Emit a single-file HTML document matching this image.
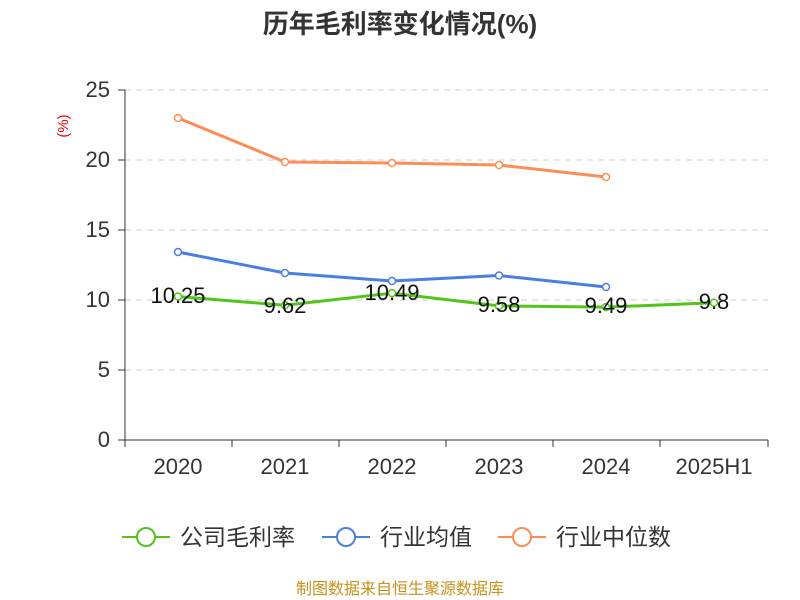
<!DOCTYPE html>
<html><head><meta charset="utf-8"><style>
body{margin:0;background:#fff;}
svg{display:block;font-family:"Liberation Sans","Noto Sans CJK SC",sans-serif;}
</style></head><body>
<svg width="800" height="600" viewBox="0 0 800 600">
<text x="400" y="33" text-anchor="middle" font-size="26" font-weight="bold" fill="#333">历年毛利率变化情况(%)</text>
<text transform="translate(68,126) rotate(-90)" text-anchor="middle" font-size="15" fill="#e00">(%)</text>
<g stroke="#ccc" stroke-dasharray="6,5" stroke-width="1">
<line x1="125" y1="90" x2="768" y2="90"/>
<line x1="125" y1="160" x2="768" y2="160"/>
<line x1="125" y1="230" x2="768" y2="230"/>
<line x1="125" y1="300" x2="768" y2="300"/>
<line x1="125" y1="370" x2="768" y2="370"/>
</g>
<g stroke="#333" stroke-width="1">
<line x1="125" y1="90" x2="125" y2="440"/>
<line x1="125" y1="440" x2="768" y2="440"/>
<line x1="118" y1="90" x2="125" y2="90"/><line x1="118" y1="160" x2="125" y2="160"/>
<line x1="118" y1="230" x2="125" y2="230"/><line x1="118" y1="300" x2="125" y2="300"/>
<line x1="118" y1="370" x2="125" y2="370"/><line x1="118" y1="440" x2="125" y2="440"/>
<line x1="125" y1="440" x2="125" y2="447"/><line x1="232" y1="440" x2="232" y2="447"/>
<line x1="339" y1="440" x2="339" y2="447"/><line x1="446" y1="440" x2="446" y2="447"/>
<line x1="553" y1="440" x2="553" y2="447"/><line x1="660" y1="440" x2="660" y2="447"/>
<line x1="768" y1="440" x2="768" y2="447"/>
</g>
<g font-size="22" fill="#333" text-anchor="end">
<text x="110" y="97">25</text><text x="110" y="167">20</text><text x="110" y="237">15</text>
<text x="110" y="307">10</text><text x="110" y="377">5</text><text x="110" y="447">0</text>
</g>
<g font-size="22" fill="#333" text-anchor="middle">
<text x="178" y="474">2020</text><text x="285" y="474">2021</text><text x="392" y="474">2022</text>
<text x="499" y="474">2023</text><text x="606" y="474">2024</text><text x="714" y="474">2025H1</text>
</g>
<g fill="none" stroke-width="3">
<polyline stroke="#fe8c56" points="178,118 285,162 392,163 499,165 606,177"/>
<polyline stroke="#4a7fe0" points="178,252 285,273 392,281 499,275.5 606,287"/>
<polyline stroke="#52c41a" points="178,296.5 285,305.3 392,293.1 499,305.9 606,307.1 714,302.8"/>
</g>
<g fill="#fff" stroke-width="1.5">
<g stroke="#fe8c56"><circle cx="178" cy="118" r="3.5"/><circle cx="285" cy="162" r="3.5"/><circle cx="392" cy="163" r="3.5"/><circle cx="499" cy="165" r="3.5"/><circle cx="606" cy="177" r="3.5"/></g>
<g stroke="#4a7fe0"><circle cx="178" cy="252" r="3.5"/><circle cx="285" cy="273" r="3.5"/><circle cx="392" cy="281" r="3.5"/><circle cx="499" cy="275.5" r="3.5"/><circle cx="606" cy="287" r="3.5"/></g>
<g stroke="#52c41a"><circle cx="178" cy="296.5" r="3.5"/><circle cx="285" cy="305.3" r="3.5"/><circle cx="392" cy="293.1" r="3.5"/><circle cx="499" cy="305.9" r="3.5"/><circle cx="606" cy="307.1" r="3.5"/><circle cx="714" cy="302.8" r="3.5"/></g>
</g>
<g font-size="22" fill="#111" text-anchor="middle">
<text x="178" y="303">10.25</text><text x="285" y="313">9.62</text><text x="392" y="300">10.49</text>
<text x="499" y="312">9.58</text><text x="606" y="313">9.49</text><text x="714" y="309">9.8</text>
</g>
<g stroke-width="2" fill="#fff">
<line x1="122" y1="537" x2="170" y2="537" stroke="#52c41a"/><circle cx="146" cy="537" r="9" stroke="#52c41a"/>
<line x1="322" y1="537" x2="370" y2="537" stroke="#4a7fe0"/><circle cx="346" cy="537" r="9" stroke="#4a7fe0"/>
<line x1="498" y1="537" x2="546" y2="537" stroke="#fe8c56"/><circle cx="522" cy="537" r="9" stroke="#fe8c56"/>
</g>
<g font-size="23" fill="#333">
<text x="180" y="545">公司毛利率</text><text x="380" y="545">行业均值</text><text x="556" y="545">行业中位数</text>
</g>
<text x="400" y="594" text-anchor="middle" font-size="16" fill="#c8901a">制图数据来自恒生聚源数据库</text>
</svg>
</body></html>
